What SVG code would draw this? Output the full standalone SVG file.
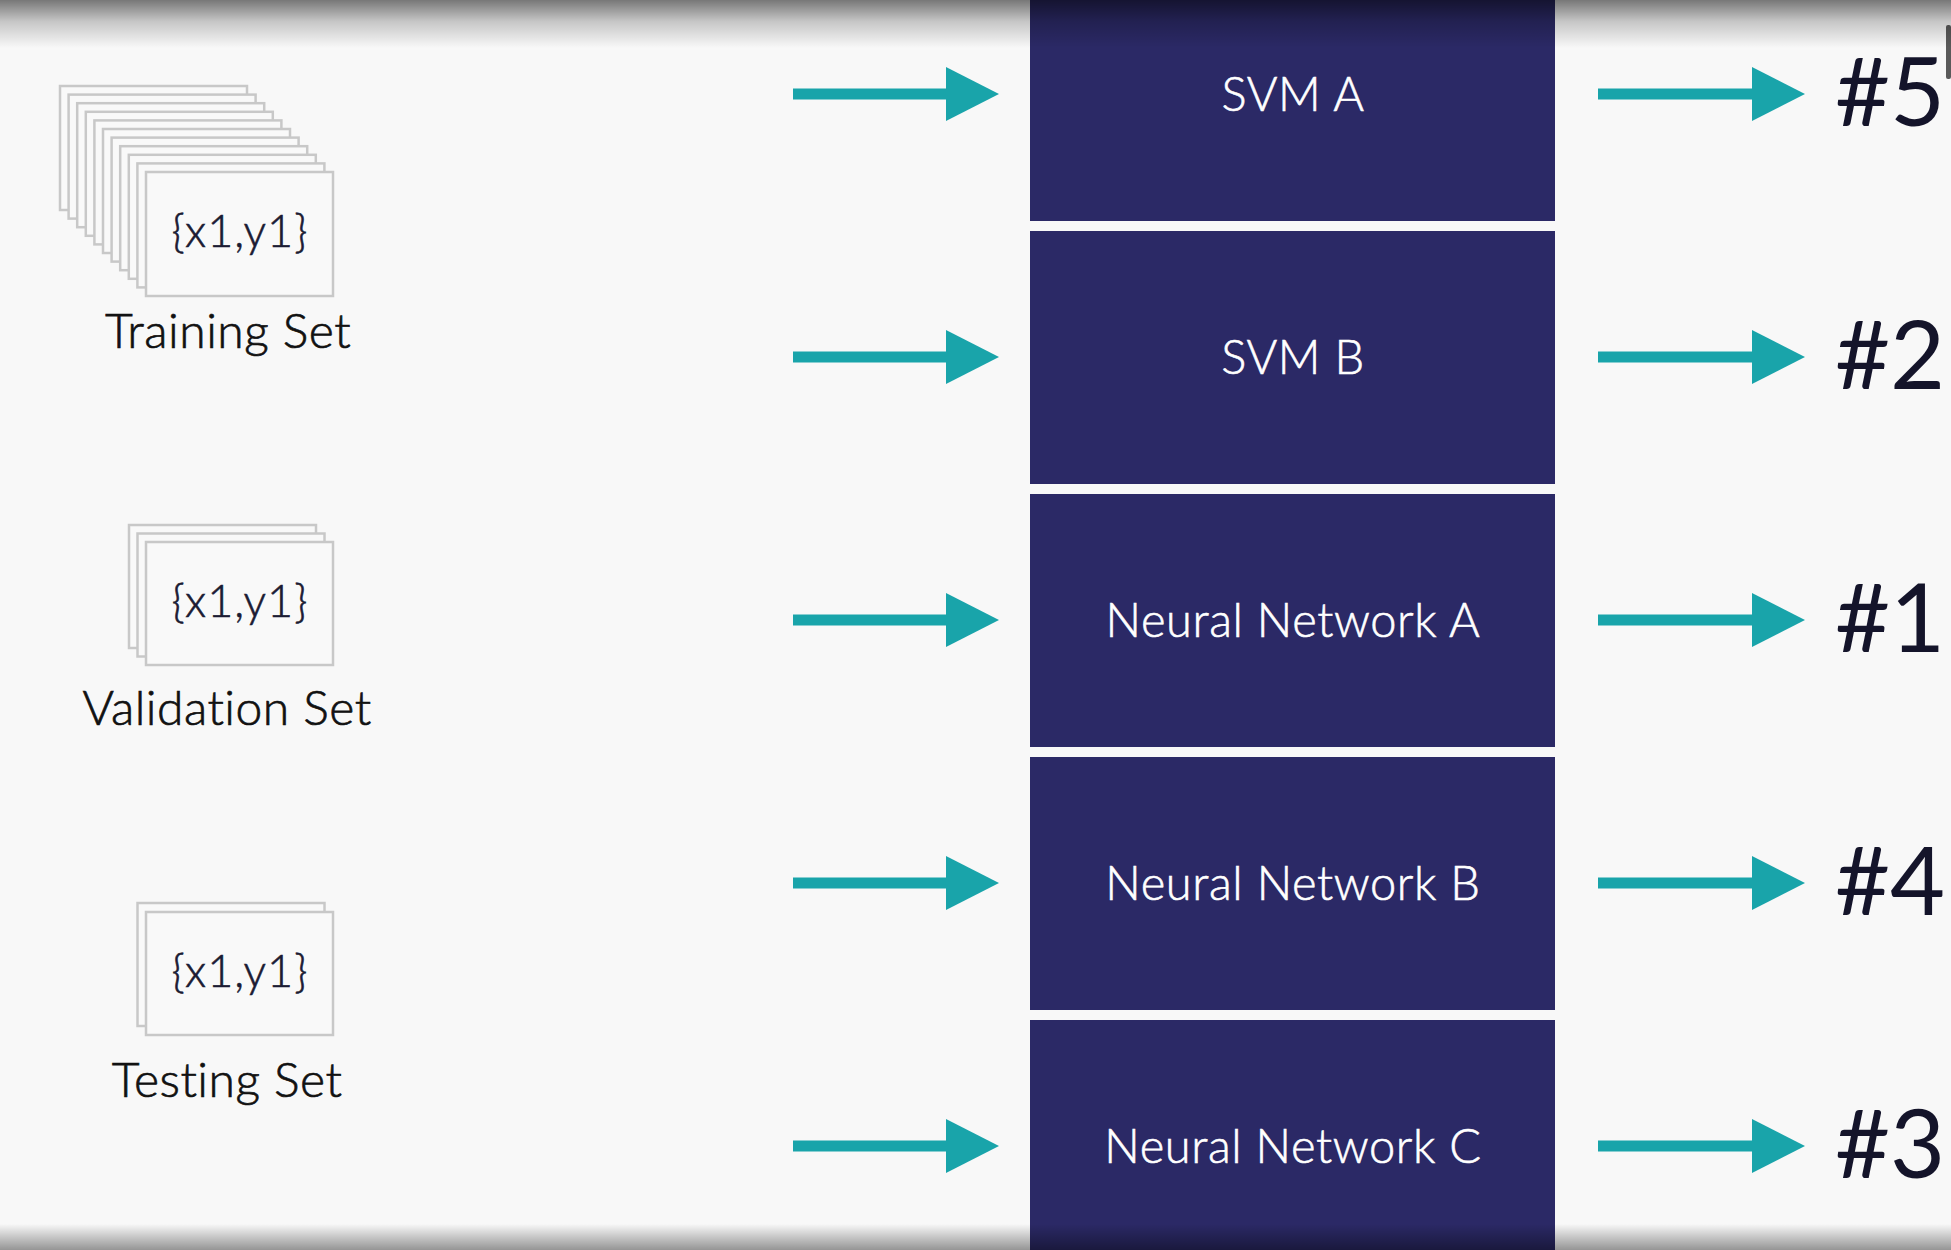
<svg xmlns="http://www.w3.org/2000/svg" width="1951" height="1250" viewBox="0 0 1951 1250">
  <defs>
    <style>
      .card { fill: #f9f9f9; stroke: #c8c8c8; stroke-width: 2.5; }
      .cardtxt { font-family: Lato, "Open Sans", "Liberation Sans", sans-serif; font-weight: 300; font-size: 45px; letter-spacing: 1px; fill: #1b1b33; stroke: #1b1b33; stroke-width: 0.6; text-anchor: middle; }
      .setlbl { font-family: Lato, "Open Sans", "Liberation Sans", sans-serif; font-weight: 300; font-size: 48px; letter-spacing: 0.5px; fill: #111111; stroke: #111111; stroke-width: 0.7; text-anchor: middle; }
      .box { fill: #2b2966; }
      .boxtxt { font-family: Lato, "Open Sans", "Liberation Sans", sans-serif; font-weight: 300; font-size: 47px; letter-spacing: 0.6px; fill: #ffffff; stroke: #ffffff; stroke-width: 0.6; text-anchor: middle; }
      .rank { font-family: Lato, "Open Sans", "Liberation Sans", sans-serif; font-size: 95px; fill: #14142a; }
      .arrow { stroke: #19a4aa; stroke-width: 11; fill: none; marker-end: url(#head); }
    </style>
    <marker id="head" markerUnits="userSpaceOnUse" markerWidth="53" markerHeight="55" refX="0" refY="27" orient="auto" overflow="visible">
      <path d="M0,0 L53,27 L0,54 z" fill="#19a4aa"/>
    </marker>
    <linearGradient id="topShade" x1="0" y1="0" x2="0" y2="1">
      <stop offset="0" stop-color="#000" stop-opacity="0.52"/>
      <stop offset="0.45" stop-color="#000" stop-opacity="0.2"/>
      <stop offset="1" stop-color="#000" stop-opacity="0"/>
    </linearGradient>
    <linearGradient id="botShade" x1="0" y1="0" x2="0" y2="1">
      <stop offset="0" stop-color="#000" stop-opacity="0"/>
      <stop offset="1" stop-color="#000" stop-opacity="0.4"/>
    </linearGradient>
  </defs>

  <rect x="0" y="0" width="1951" height="1250" fill="#f8f8f8"/>

  <g id="training-set">
    <rect class="card" x="60" y="86" width="187" height="124"/>
    <rect class="card" x="68.6" y="94.6" width="187" height="124"/>
    <rect class="card" x="77.2" y="103.2" width="187" height="124"/>
    <rect class="card" x="85.8" y="111.8" width="187" height="124"/>
    <rect class="card" x="94.4" y="120.4" width="187" height="124"/>
    <rect class="card" x="103" y="129" width="187" height="124"/>
    <rect class="card" x="111.6" y="137.6" width="187" height="124"/>
    <rect class="card" x="120.2" y="146.2" width="187" height="124"/>
    <rect class="card" x="128.8" y="154.8" width="187" height="124"/>
    <rect class="card" x="137.4" y="163.4" width="187" height="124"/>
    <rect class="card" x="146" y="172" width="187" height="124"/>
    <text class="cardtxt" x="240" y="247">{x1,y1}</text>
    <text class="setlbl" x="228" y="348">Training Set</text>
  </g>

  <g id="validation-set">
    <rect class="card" x="129" y="525" width="187" height="123"/>
    <rect class="card" x="137.5" y="533.5" width="187" height="123"/>
    <rect class="card" x="146" y="542" width="187" height="123"/>
    <text class="cardtxt" x="240" y="617">{x1,y1}</text>
    <text class="setlbl" x="227" y="725">Validation Set</text>
  </g>

  <g id="testing-set">
    <rect class="card" x="137.5" y="903" width="187" height="123"/>
    <rect class="card" x="146" y="912" width="187" height="123"/>
    <text class="cardtxt" x="240" y="987">{x1,y1}</text>
    <text class="setlbl" x="227" y="1097">Testing Set</text>
  </g>

  <g id="svm-a">
    <rect class="box" x="1030" y="-32" width="525" height="253"/>
    <text class="boxtxt" x="1293" y="111">SVM A</text>
  </g>
  <g id="svm-b">
    <rect class="box" x="1030" y="231" width="525" height="253"/>
    <text class="boxtxt" x="1293" y="374">SVM B</text>
  </g>
  <g id="nn-a">
    <rect class="box" x="1030" y="494" width="525" height="253"/>
    <text class="boxtxt" x="1293" y="637">Neural Network A</text>
  </g>
  <g id="nn-b">
    <rect class="box" x="1030" y="757" width="525" height="253"/>
    <text class="boxtxt" x="1293" y="900">Neural Network B</text>
  </g>
  <g id="nn-c">
    <rect class="box" x="1030" y="1020" width="525" height="253"/>
    <text class="boxtxt" x="1293" y="1163">Neural Network C</text>
  </g>

  <g id="rank-5"><text class="rank" x="1835" y="126">#5</text></g>
  <g id="rank-2"><text class="rank" x="1835" y="389">#2</text></g>
  <g id="rank-1"><text class="rank" x="1835" y="652">#1</text></g>
  <g id="rank-4"><text class="rank" x="1835" y="915">#4</text></g>
  <g id="rank-3"><text class="rank" x="1835" y="1178">#3</text></g>

  <g id="connectors">
    <line class="arrow" x1="793" y1="94" x2="946" y2="94"/>
    <line class="arrow" x1="793" y1="357" x2="946" y2="357"/>
    <line class="arrow" x1="793" y1="620" x2="946" y2="620"/>
    <line class="arrow" x1="793" y1="883" x2="946" y2="883"/>
    <line class="arrow" x1="793" y1="1146" x2="946" y2="1146"/>
    <line class="arrow" x1="1598" y1="94" x2="1752" y2="94"/>
    <line class="arrow" x1="1598" y1="357" x2="1752" y2="357"/>
    <line class="arrow" x1="1598" y1="620" x2="1752" y2="620"/>
    <line class="arrow" x1="1598" y1="883" x2="1752" y2="883"/>
    <line class="arrow" x1="1598" y1="1146" x2="1752" y2="1146"/>
  </g>

  <rect x="1946" y="25" width="5" height="54" rx="2" fill="#5a5a5a"/>
  <rect x="0" y="0" width="1951" height="48" fill="url(#topShade)"/>
  <rect x="0" y="1224" width="1951" height="26" fill="url(#botShade)"/>
</svg>
